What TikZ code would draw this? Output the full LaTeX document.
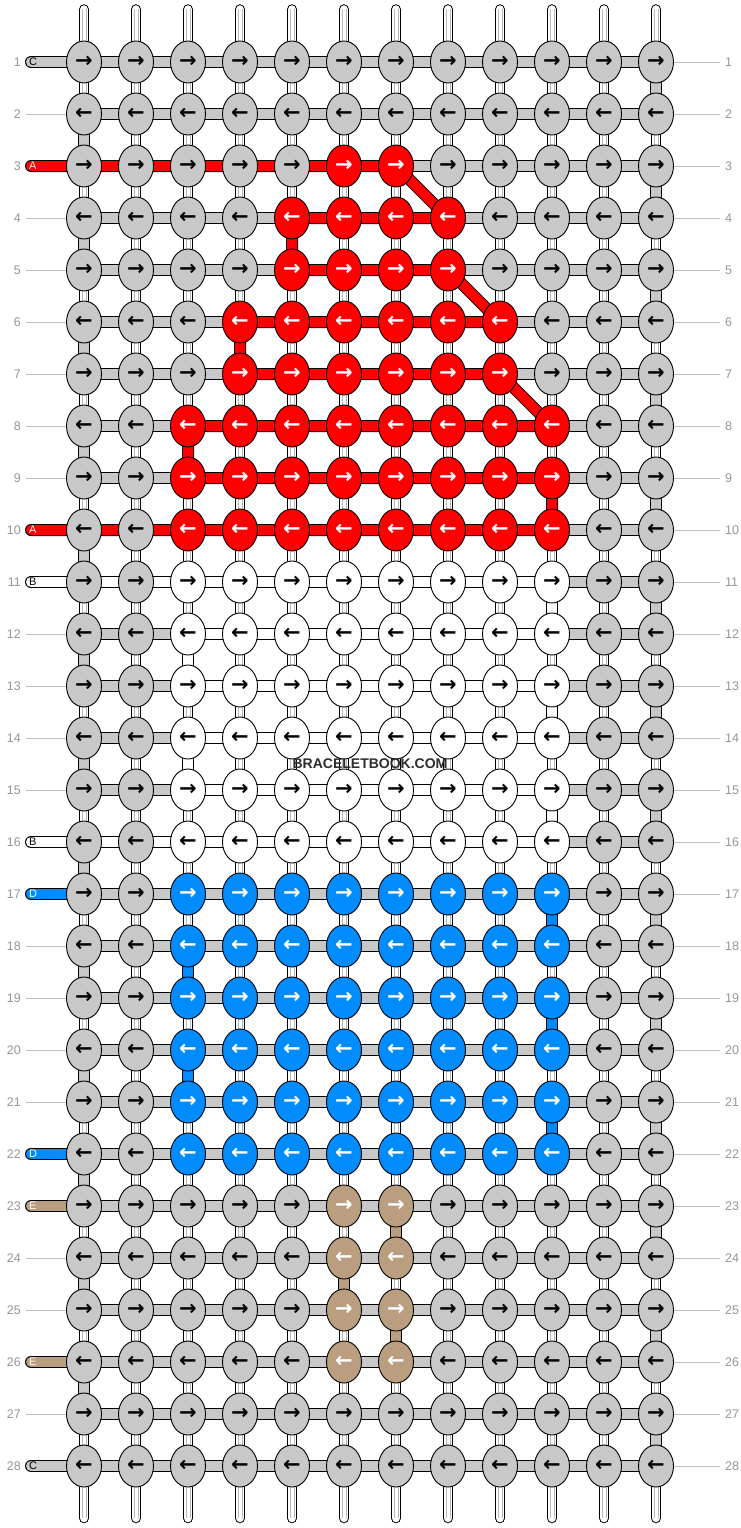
\documentclass[tikz,border=0pt]{standalone}
\usepackage{fontspec}
\setmainfont{Liberation Sans}
\newfontfamily\arrowfont{DejaVu Sans}
\usetikzlibrary{shapes.geometric}
\definecolor{cgray}{RGB}{200,200,200}
\definecolor{cred}{RGB}{255,0,0}
\definecolor{cblue}{RGB}{0,140,255}
\definecolor{ctan}{RGB}{186,158,128}
\definecolor{numgray}{RGB}{150,150,150}
\definecolor{linegray}{RGB}{190,190,190}
\definecolor{warpline}{RGB}{185,185,185}
\definecolor{wmgray}{RGB}{45,45,45}
\tikzset{
  knot/.style={ellipse, draw=black, line width=0.9pt, minimum width=35pt, minimum height=42pt, inner sep=0pt},
  rownum/.style={text=numgray, font=\fontsize{12.5}{12.5}\selectfont, inner sep=0pt},
  rowline/.style={draw=linegray, line width=0.8pt},
  stublabel/.style={font=\fontsize{11}{11}\selectfont, inner sep=0pt, anchor=west},
  wmark/.style={font=\bfseries\fontsize{14}{14}\selectfont, text=wmgray, inner sep=1pt},
}
\newcommand\strand[2]{%
  \draw[line width=12pt, black, line cap=round, line join=round] #2;
  \draw[line width=10pt, #1, line cap=round, line join=round] #2;
}
\newcommand\setcell[2]{%
  \def\kc{cgray}\def\ac{black}%
  \def\klo{0}\def\khi{-1}\def\kcc{cgray}\def\kaa{black}%
  \ifnum#1=3 \def\klo{6}\def\khi{7}\def\kcc{cred}\def\kaa{white}\fi
  \ifnum#1>3 \ifnum#1<6 \def\klo{5}\def\khi{8}\def\kcc{cred}\def\kaa{white}\fi\fi
  \ifnum#1>5 \ifnum#1<8 \def\klo{4}\def\khi{9}\def\kcc{cred}\def\kaa{white}\fi\fi
  \ifnum#1>7 \ifnum#1<11 \def\klo{3}\def\khi{10}\def\kcc{cred}\def\kaa{white}\fi\fi
  \ifnum#1>10 \ifnum#1<17 \def\klo{3}\def\khi{10}\def\kcc{white}\def\kaa{black}\fi\fi
  \ifnum#1>16 \ifnum#1<23 \def\klo{3}\def\khi{10}\def\kcc{cblue}\def\kaa{white}\fi\fi
  \ifnum#1>22 \ifnum#1<27 \def\klo{6}\def\khi{7}\def\kcc{ctan}\def\kaa{white}\fi\fi
  \ifnum#2<\klo\relax\else\ifnum#2>\khi\relax\else\let\kc\kcc\let\ac\kaa\fi\fi
}
\begin{document}
\begin{tikzpicture}[x=1pt,y=-1pt]
\useasboundingbox (0,0) rectangle (740,1528);
% coordinates
\foreach \r in {1,...,28}{
  \foreach \c in {1,...,12}{
    \coordinate (p-\r-\c) at ({84+52*(\c-1)},{62+52*(\r-1)});
  }
  \coordinate (s-\r) at (31,{62+52*(\r-1)});
}
% warp strings
\foreach \c in {1,...,12}{
  \coordinate (wt-\c) at ({84+52*(\c-1)},9.5);
  \coordinate (wb-\c) at ({84+52*(\c-1)},1518);
  \draw[line width=10.5pt, black, line cap=round] (wt-\c) -- (wb-\c);
  \draw[line width=8.5pt, white, line cap=round] (wt-\c) -- (wb-\c);
  \draw[line width=0.6pt, warpline] ([xshift=-1.8pt]wt-\c) -- ([xshift=-1.8pt]wb-\c);
  \draw[line width=0.6pt, warpline] ([xshift=1.8pt]wt-\c) -- ([xshift=1.8pt]wb-\c);
}
% string E
\strand{ctan}{(s-23) -- (p-23-7) -- (p-24-7) -- (p-24-6) -- (p-25-6) -- (p-25-7) -- (p-26-7) -- (s-26)}
% string D
\strand{cblue}{(s-17) -- (p-17-10) -- (p-18-10) -- (p-18-3) -- (p-19-3) -- (p-19-10) -- (p-20-10) -- (p-20-3) -- (p-21-3) -- (p-21-10) -- (p-22-10) -- (s-22)}
% string C
\strand{cgray}{(s-1) -- (p-1-1)}
\foreach \r in {1,...,28}{\strand{cgray}{(p-\r-1) -- (p-\r-12)}}
\foreach \r [evaluate=\r as \n using int(\r+1)] in {1,3,...,27}{\strand{cgray}{(p-\r-12) -- (p-\n-12)}}
\foreach \r [evaluate=\r as \n using int(\r+1)] in {2,4,...,26}{\strand{cgray}{(p-\r-1) -- (p-\n-1)}}
\strand{cgray}{(p-28-1) -- (s-28)}
% string B
\strand{white}{(s-11) -- (p-11-10) -- (p-12-10) -- (p-12-3) -- (p-13-3) -- (p-13-10) -- (p-14-10) -- (p-14-3) -- (p-15-3) -- (p-15-10) -- (p-16-10) -- (s-16)}
% string A
\strand{cred}{(s-3) -- (p-3-7) -- (p-4-8) -- (p-4-5) -- (p-5-5) -- (p-5-8) -- (p-6-9) -- (p-6-4) -- (p-7-4) -- (p-7-9) -- (p-8-10) -- (p-8-3) -- (p-9-3) -- (p-9-10) -- (p-10-10) -- (s-10)}
% knots
\foreach \r in {1,...,28}{
  \foreach \c in {1,...,12}{
    \setcell{\r}{\c}
    \node[knot, fill=\kc, text=\ac] (k-\r-\c) at (p-\r-\c)
      {\arrowfont\bfseries\fontsize{21}{21}\selectfont\ifodd\r →\else ←\fi};
  }
}
% row numbers
\foreach \r in {1,...,28}{
  \node[rownum, anchor=east] (ln-\r) at (21,{62+52*(\r-1)}) {\r};
  \node[rownum, anchor=west] (rn-\r) at (725,{62+52*(\r-1)}) {\r};
  \draw[rowline, shorten >=5pt] (k-\r-12.east) -- (rn-\r.west);
}
\foreach \r in {2,4,5,6,7,8,9,12,13,14,15,18,19,20,21,24,25,27}{
  \draw[rowline, shorten <=5pt] (ln-\r.east) -- (k-\r-1.west);
}
% stub letters
\foreach \r/\L/\tc in {1/C/black,3/A/white,10/A/white,11/B/black,16/B/black,17/D/white,22/D/white,23/E/white,26/E/white,28/C/black}{
  \node[stublabel, text=\tc] (sl-\r) at (29,{62+52*(\r-1)}) {\L};
}
\node[wmark] (wm) at (370,764) {BRACELETBOOK.COM};
\end{tikzpicture}
\end{document}
